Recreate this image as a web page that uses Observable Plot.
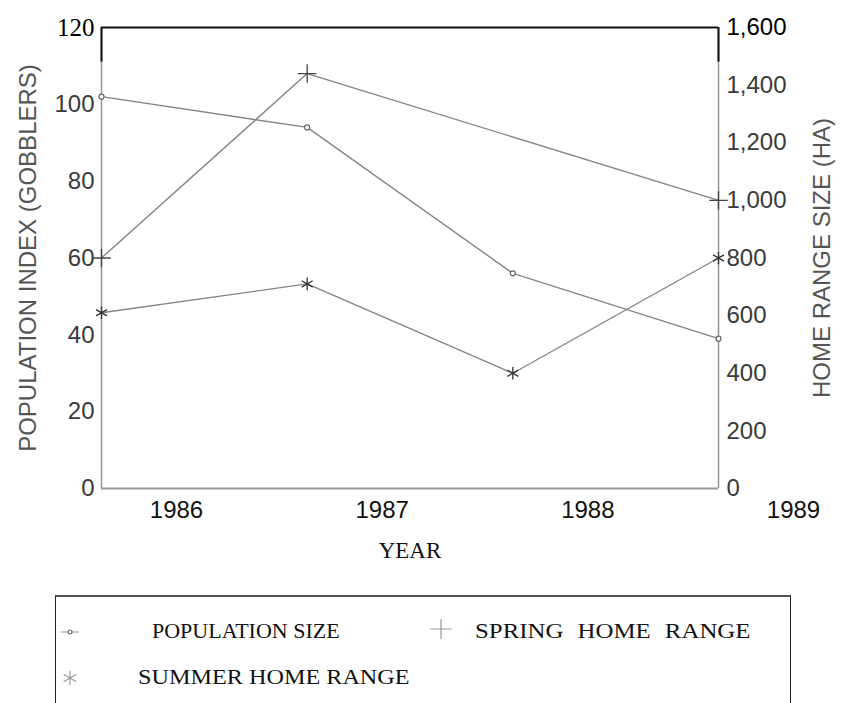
<!DOCTYPE html>
<html>
<head>
<meta charset="utf-8">
<script src="https://cdn.jsdelivr.net/npm/d3@7"></script>
<script src="https://cdn.jsdelivr.net/npm/@observablehq/plot@0.6"></script>
<style>
  html, body { margin: 0; padding: 0; background: #fff; }
  #wrap { position: relative; width: 843px; height: 703px; overflow: hidden; background: #fff; }
  #legend { position: absolute; left: 55px; top: 595px; width: 734px; height: 140px;
            border-top: 2px solid #555; border-left: 1.5px solid #222; border-right: 1.5px solid #222; }
  .lg { position: absolute; font-family: "Liberation Serif", "Times New Roman", serif; font-size: 22px;
        color: #111; white-space: nowrap; transform-origin: left center; }
  .mk { position: absolute; }
</style>
</head>
<body>
<div id="wrap">
  <div id="chart"></div>
  <div id="legend"></div>
</div>
<script>
// ---- data ----
const years = [1986, 1987, 1988, 1989];
const populationSize = [102, 94, 56, 39];          // gobblers (left axis)
const springYears = [1986, 1987, 1989];
const springHomeRange = [800, 1440, 1000];         // ha (right axis)
const summerYears = [1986, 1987, 1988, 1989];
const summerHomeRange = [610, 710, 400, 800];      // ha (right axis)
const leftTicks = [0, 20, 40, 60, 80, 100];
const leftTopTick = [120];
const rightTicks = [0, 200, 400, 600, 800, 1000, 1200, 1400];
const rightTopTick = [1600];
const legendLabels = ["POPULATION SIZE", "SPRING HOME RANGE", "SUMMER HOME RANGE"];

const k = 120 / 1600; // right-axis (ha) to left-axis units
const pop = years.map((y, i) => ({year: y, v: populationSize[i]}));
const spring = springYears.map((y, i) => ({year: y, v: springHomeRange[i] * k}));
const summer = summerYears.map((y, i) => ({year: y, v: summerHomeRange[i] * k}));
const fmt = d3.format(",");
const lineColor = "#858585";

const chart = Plot.plot({
  width: 843,
  height: 590,
  marginLeft: 101,
  marginRight: 125,
  marginTop: 27,
  marginBottom: 102,
  x: {domain: [1986, 1989]},
  y: {domain: [0, 120]},
  style: {fontFamily: "'Liberation Sans', Arial, sans-serif", fontSize: "24px", background: "white", overflow: "visible"},
  marks: [
    Plot.ruleX([1986, 1989], {stroke: "#9a9a9a", strokeWidth: 1.6}),
    Plot.ruleY([0], {stroke: "#9a9a9a", strokeWidth: 2}),
    Plot.ruleY([120], {stroke: "#111", strokeWidth: 2}),
    Plot.ruleX([1986, 1989], {y1: 111, y2: 120, stroke: "#111", strokeWidth: 2}),
    Plot.axisY(leftTicks, {anchor: "left", tickSize: 0, tickPadding: 7, fill: "#3a3a3a", label: null}),
    Plot.text(leftTopTick, {y: d => d, frameAnchor: "left", textAnchor: "end", dx: -7, fill: "#000", fontFamily: "'Liberation Serif', serif", fontSize: 25}),
    Plot.axisY(rightTicks.map(v => v * k), {anchor: "right", tickSize: 0, tickPadding: 8, fill: "#3a3a3a", tickFormat: d => fmt(Math.round(d / k)), label: null}),
    Plot.axisY(rightTopTick.map(v => v * k), {anchor: "right", tickSize: 0, tickPadding: 8, fill: "#000", tickFormat: d => fmt(Math.round(d / k)), label: null}),
    Plot.axisX(years, {anchor: "bottom", tickSize: 0, tickPadding: 12, dx: 75, fill: "#111", tickFormat: d => String(d), label: null}),
    Plot.text(["POPULATION INDEX (GOBBLERS)"], {frameAnchor: "left", textAnchor: "middle", dx: -73, rotate: -90, fill: "#555", fontSize: 24}),
    Plot.text(["HOME RANGE SIZE (HA)"], {frameAnchor: "right", textAnchor: "middle", dx: 104, rotate: -90, fill: "#555", fontSize: 24}),
    Plot.text(["YEAR"], {frameAnchor: "bottom", dy: 69, fill: "#111", fontSize: 23, fontFamily: "'Liberation Serif', serif"}),
    Plot.line(pop, {x: "year", y: "v", stroke: lineColor, strokeWidth: 1.4}),
    Plot.line(spring, {x: "year", y: "v", stroke: lineColor, strokeWidth: 1.4}),
    Plot.line(summer, {x: "year", y: "v", stroke: lineColor, strokeWidth: 1.4}),
    Plot.dot(pop, {x: "year", y: "v", symbol: "circle", r: 2.5, stroke: "#666", fill: "white", strokeWidth: 1.2}),
    Plot.dot(spring, {x: "year", y: "v", symbol: "plus", r: 6, stroke: "#444", strokeWidth: 1.3}),
    Plot.dot(summer, {x: "year", y: "v", symbol: "asterisk", r: 6, stroke: "#333", strokeWidth: 1.3})
  ]
});
document.getElementById("chart").appendChild(chart);

// ---- legend (HTML) ----
const legend = document.getElementById("legend");
function marker(kind) {
  const s = d3.create("svg").attr("width", 24).attr("height", 20);
  const g = s.append("g").attr("transform", "translate(12,10)").attr("stroke", "#999").attr("fill", "none").attr("stroke-width", 1.2);
  if (kind === "circle") {
    g.append("line").attr("x1", -9).attr("x2", 9).attr("stroke", "#aaa");
    g.append("circle").attr("r", 2).attr("fill", "white").attr("stroke", "#666");
  } else {
    g.append("path").attr("d", d3.symbol(kind === "plus" ? d3.symbolPlus : d3.symbolAsterisk, 150)());
  }
  return s.node();
}
const items = [
  {label: legendLabels[0], kind: "circle", mx: 2, my: 25, tx: 96, ty: 21, ws: "normal", sx: 1.0},
  {label: legendLabels[1], kind: "plus", mx: 373, my: 22, tx: 419, ty: 21, ws: "7px", sx: 1.13},
  {label: legendLabels[2], kind: "asterisk", mx: 2, my: 71, tx: 82, ty: 67, ws: "normal", sx: 1.1}
];
for (const it of items) {
  const m = document.createElement("div");
  m.className = "mk";
  m.style.left = it.mx + "px"; m.style.top = it.my + "px";
  m.appendChild(marker(it.kind));
  legend.appendChild(m);
  const t = document.createElement("div");
  t.className = "lg";
  t.textContent = it.label;
  t.style.left = it.tx + "px"; t.style.top = it.ty + "px";
  t.style.wordSpacing = it.ws;
  t.style.transform = `scaleX(${it.sx})`;
  legend.appendChild(t);
}
</script>
</body>
</html>
